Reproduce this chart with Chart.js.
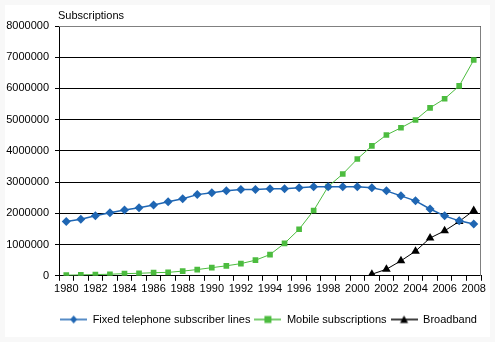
<!DOCTYPE html>
<html>
<head>
<meta charset="utf-8">
<script src="https://cdn.jsdelivr.net/npm/chart.js@4.4.1/dist/chart.umd.min.js"></script>
<style>
  body { margin: 0; background: #f8f8f8; }
  #wrap { width: 495px; height: 342px; }
</style>
</head>
<body>
<div id="wrap"><canvas id="mycanvas" width="495" height="342"></canvas></div>
<script>
var years = ['1980','1981','1982','1983','1984','1985','1986','1987','1988','1989','1990','1991','1992','1993','1994',
             '1995','1996','1997','1998','1999','2000','2001','2002','2003','2004','2005','2006','2007','2008'];

var fixedLines = [1740000,1810000,1920000,2020000,2110000,2180000,2270000,2370000,2470000,2600000,2660000,2720000,2760000,2760000,2790000,
                  2790000,2820000,2850000,2850000,2850000,2850000,2820000,2720000,2560000,2400000,2140000,1920000,1760000,1660000];

var mobileSubs = [20000,30000,40000,50000,70000,80000,100000,110000,150000,200000,260000,320000,390000,500000,680000,
                  1040000,1490000,2090000,2860000,3260000,3740000,4160000,4510000,4740000,4990000,5380000,5670000,6080000,6910000];

var broadband = [null,null,null,null,null,null,null,null,null,null,null,null,null,null,null,
                 null,null,null,null,null,null,50000,210000,480000,790000,1210000,1440000,1740000,2090000];

var yTicks = [0,1000000,2000000,3000000,4000000,5000000,6000000,7000000,8000000];

var blue = '#1f66b3';
var green = '#4cbc3f';
var black = '#000000';

// legend symbol: short line with the marker in the middle
function legendIcon(color, style) {
	var c = document.createElement('canvas');
	c.width = 27; c.height = 10;
	var g = c.getContext('2d');
	g.strokeStyle = color;
	g.lineWidth = 1.5;
	g.beginPath(); g.moveTo(0, 5); g.lineTo(27, 5); g.stroke();
	g.fillStyle = color;
	g.beginPath();
	if (style == 'diamond') {
		g.moveTo(13.5, 1); g.lineTo(17, 5); g.lineTo(13.5, 9); g.lineTo(10, 5);
	} else if (style == 'square') {
		g.rect(10, 1.5, 7, 7);
	} else {
		g.moveTo(13.5, 1); g.lineTo(17.5, 8.5); g.lineTo(9.5, 8.5);
	}
	g.closePath();
	g.fill();
	return c;
}

var icons = [legendIcon(blue, 'diamond'), legendIcon(green, 'square'), legendIcon(black, 'triangle')];

var framePlugin = {
	id: 'frame',
	afterLayout: function(chart) {
		// legend sits a bit right of centre in the original
		if (chart.legend) {
			chart.legend.left += 28;
			chart.legend.right += 28;
		}
	},
	beforeDraw: function(chart) {
		var ctx = chart.ctx;
		ctx.save();
		ctx.fillStyle = '#ffffff';
		ctx.fillRect(5, 5, 485, 332);
		ctx.restore();
	},
	afterDraw: function(chart) {
		var ctx = chart.ctx;
		var a = chart.chartArea;
		ctx.save();
		// grey top and right border of the plot
		ctx.strokeStyle = '#808080';
		ctx.lineWidth = 1;
		ctx.beginPath();
		ctx.moveTo(a.left, a.top + 0.5);
		ctx.lineTo(a.right - 0.5, a.top + 0.5);
		ctx.lineTo(a.right - 0.5, a.bottom);
		ctx.stroke();
		// axis title
		ctx.fillStyle = '#000';
		ctx.font = '11px "Liberation Sans", Arial, sans-serif';
		ctx.textBaseline = 'alphabetic';
		ctx.fillText('Subscriptions', 58, 19);
		ctx.restore();
	}
};

var chartdata = {
	labels: years,
	datasets: [
		{
			label: 'Fixed telephone subscriber lines',
			data: fixedLines,
			borderColor: blue,
			backgroundColor: blue,
			borderWidth: 1.5,
			pointStyle: 'rectRot',
			pointRadius: 4.5,
			pointBorderWidth: 0
		},
		{
			label: 'Mobile subscriptions',
			data: mobileSubs,
			borderColor: green,
			backgroundColor: green,
			borderWidth: 1,
			pointStyle: 'rect',
			pointRadius: 4,
			pointBorderWidth: 0
		},
		{
			label: 'Broadband',
			data: broadband,
			borderColor: black,
			backgroundColor: black,
			borderWidth: 1,
			pointStyle: 'triangle',
			pointRadius: 5,
			pointBorderWidth: 0
		}
	]
};

var ctx = document.getElementById('mycanvas');

var lineChart = new Chart(ctx, {
	type: 'line',
	data: chartdata,
	plugins: [framePlugin],
	options: {
		responsive: false,
		animation: false,
		layout: { padding: { top: 26, right: 14, left: 0, bottom: 7 } },
		font: { family: '"Liberation Sans", Arial, sans-serif', size: 11 },
		plugins: {
			tooltip: { enabled: false },
			legend: {
				position: 'bottom',
				labels: {
					color: '#000',
					font: { family: '"Liberation Sans", Arial, sans-serif', size: 11 },
					usePointStyle: true,
					pointStyleWidth: 27,
					padding: 4,
					generateLabels: function(chart) {
						return chart.data.datasets.map(function(ds, i) {
							return {
								text: ds.label,
								pointStyle: icons[i],
								fillStyle: ds.borderColor,
								strokeStyle: ds.borderColor,
								lineWidth: 0,
								fontColor: '#000',
								datasetIndex: i
							};
						});
					}
				}
			}
		},
		scales: {
			x: {
				offset: true,
				afterFit: function(scale) { scale.height = scale.height + 12; },
				grid: { offset: true, drawOnChartArea: false, drawTicks: true, tickLength: 5, color: '#000' },
				border: { color: '#000', width: 1 },
				ticks: {
					color: '#000',
					autoSkip: false,
					maxRotation: 0,
					padding: 2,
					font: { family: '"Liberation Sans", Arial, sans-serif', size: 11 },
					callback: function(v, i) { return i % 2 == 0 ? years[i] : ''; }
				}
			},
			y: {
				min: 0,
				max: 8000000,
				afterBuildTicks: function(scale) {
					scale.ticks = yTicks.map(function(v) { return { value: v }; });
				},
				afterFit: function(scale) { scale.width = 59; },
				grid: { color: '#000', lineWidth: 1, tickLength: 4 },
				border: { color: '#000', width: 1 },
				ticks: {
					color: '#000',
					padding: 6,
					font: { family: '"Liberation Sans", Arial, sans-serif', size: 11 },
					callback: function(v) { return String(v); }
				}
			}
		}
	}
});
</script>
</body>
</html>
